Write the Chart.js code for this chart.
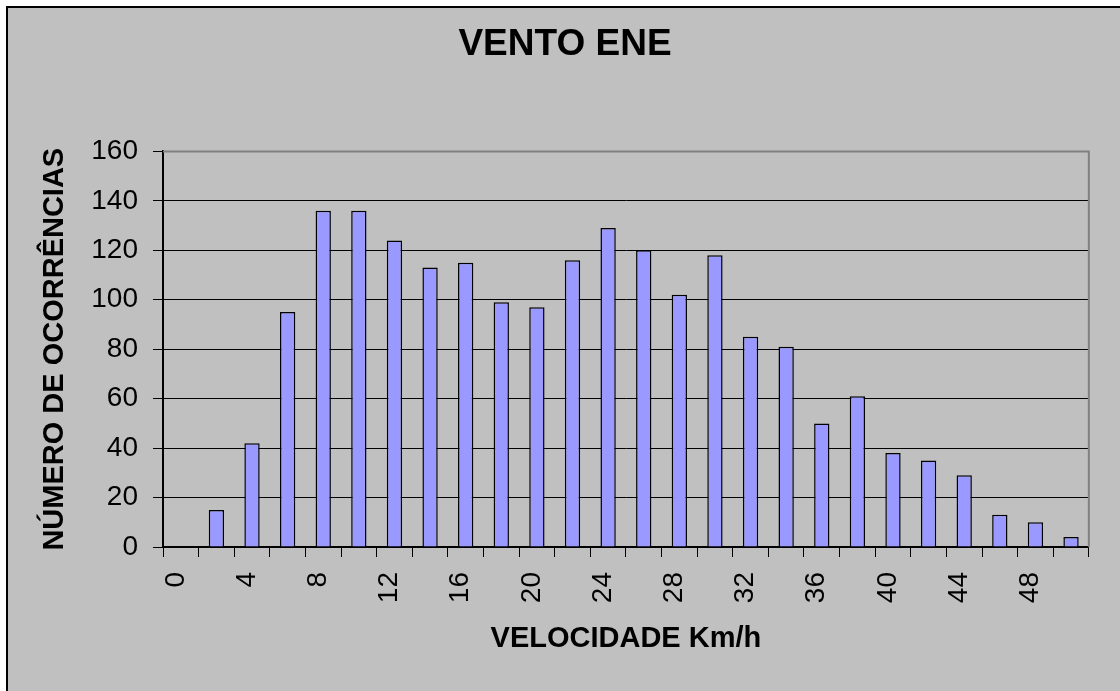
<!DOCTYPE html>
<html>
<head>
<meta charset="utf-8">
<script src="https://cdn.jsdelivr.net/npm/chart.js@4"></script>
<style>
  html, body { margin: 0; padding: 0; background: #fff; }
  canvas { display: block; }
</style>
</head>
<body>
<canvas id="grafico" width="1120" height="691"></canvas>
<script>
// velocidade (km/h) e ocorrencias
const velocidades = [0, 2, 4, 6, 8, 10, 12, 14, 16, 18, 20, 22, 24, 26, 28, 30, 32, 34, 36, 38, 40, 42, 44, 46, 48, 50];
const ocorrencias = [0, 15, 42, 95, 136, 136, 124, 113, 115, 99, 97, 116, 129, 120, 102, 118, 85, 81, 50, 61, 38, 35, 29, 13, 10, 4];
const yTicks = [0, 20, 40, 60, 80, 100, 120, 140, 160];

const fundo = {
    id: 'fundo',
    beforeDraw(chart) {
        const c = chart.ctx;
        c.save();
        c.fillStyle = '#ffffff';
        c.fillRect(0, 0, chart.width, chart.height);
        c.fillStyle = '#c0c0c0';
        c.fillRect(6, 6, chart.width - 6, chart.height - 6);
        c.fillStyle = '#000000';
        c.fillRect(6, 6, chart.width - 6, 2);
        c.fillRect(6, 6, 2, chart.height - 6);
        c.restore();
    },
    beforeDatasetsDraw(chart) {
        // borda cinza do plot (topo e direita)
        const a = chart.chartArea;
        const c = chart.ctx;
        c.save();
        c.strokeStyle = '#808080';
        c.lineWidth = 2;
        c.beginPath();
        c.moveTo(a.left, a.top);
        c.lineTo(a.right, a.top);
        c.lineTo(a.right, a.bottom);
        c.stroke();
        c.restore();
    }
};

Chart.defaults.font.family = '"Liberation Sans", Arial, sans-serif';
Chart.defaults.color = '#000';

new Chart(document.getElementById('grafico').getContext('2d'), {
    type: 'bar',
    data: {
        labels: velocidades,
        datasets: [{
            data: ocorrencias,
            backgroundColor: '#9999ff',
            borderColor: '#000000',
            borderWidth: 1.5,
            categoryPercentage: 1,
            barPercentage: 0.43
        }]
    },
    options: {
        responsive: false,
        animation: false,
        layout: { padding: { left: 10, right: 0, top: 0, bottom: 0 } },
        plugins: {
            legend: { display: false },
            tooltip: { enabled: false },
            title: {
                display: true,
                text: 'VENTO ENE',
                font: { size: 37, weight: 'bold' },
                padding: { top: 23, bottom: 84 }
            }
        },
        scales: {
            x: {
                grid: {
                    drawOnChartArea: false,
                    drawTicks: true,
                    tickLength: 10,
                    tickColor: '#000',
                    offset: true
                },
                border: { color: '#000', width: 2 },
                ticks: {
                    autoSkip: false,
                    minRotation: 90,
                    maxRotation: 90,
                    padding: 15,
                    labelOffset: -5,
                    font: { size: 28 },
                    callback: function (v, i) {
                        return i % 2 === 0 ? String(velocidades[i]) : '';
                    }
                },
                title: {
                    display: true,
                    text: 'VELOCIDADE Km/h',
                    font: { size: 29, weight: 'bold' },
                    padding: { top: 0, bottom: 35 }
                },
                afterFit(scale) { scale.height = 144; }
            },
            y: {
                min: 0,
                max: 160,
                afterBuildTicks(scale) { scale.ticks = yTicks.map(v => ({ value: v })); },
                grid: {
                    color: ctx => (ctx.tick && ctx.tick.value === 160) ? 'rgba(0,0,0,0)' : '#000',
                    lineWidth: 1,
                    drawTicks: true,
                    tickLength: 10,
                    tickColor: '#000'
                },
                border: { color: '#000', width: 2 },
                ticks: {
                    padding: 15,
                    font: { size: 28 }
                },
                title: {
                    display: true,
                    text: 'NÚMERO DE OCORRÊNCIAS',
                    font: { size: 29, weight: 'bold' },
                    padding: { top: 28, bottom: 0 }
                },
                afterFit(scale) { scale.width = 153; }
            },
            // margem da direita (sem marcas)
            margem: {
                type: 'linear',
                position: 'right',
                grid: { display: false },
                border: { display: false },
                ticks: { display: false },
                afterFit(scale) { scale.width = 19; }
            }
        }
    },
    plugins: [fundo]
});
</script>
</body>
</html>
